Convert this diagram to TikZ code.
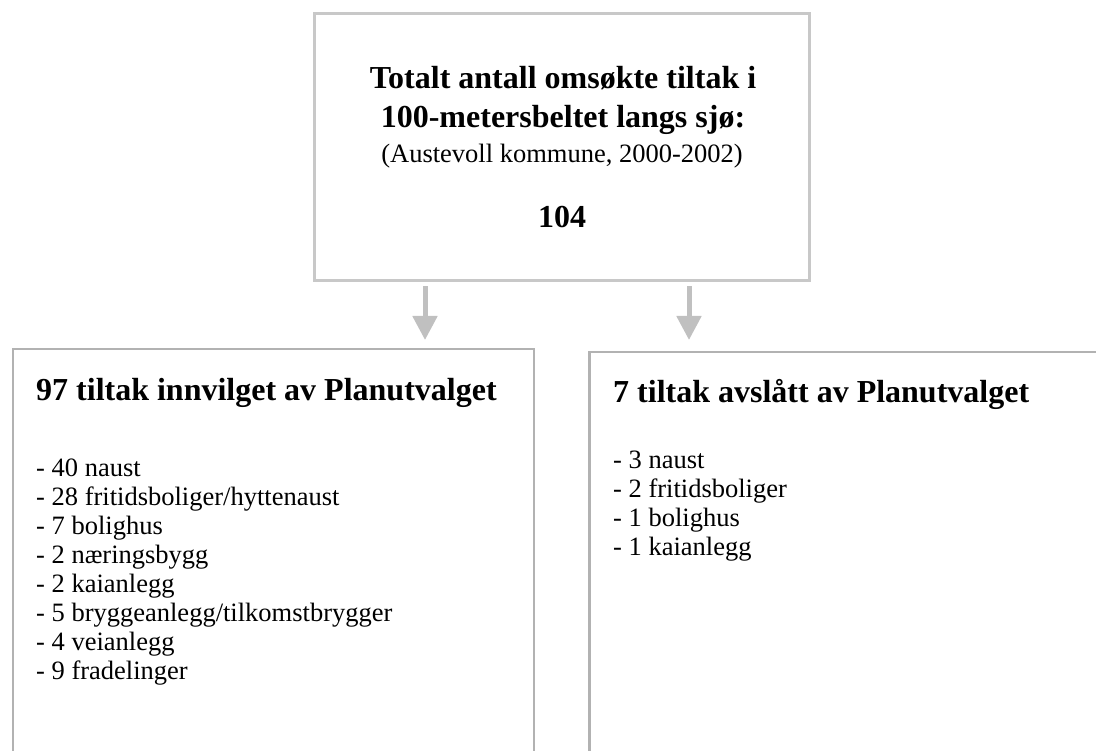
\documentclass[tikz,border=0pt]{standalone}
\usepackage{fontspec}
\setmainfont{Liberation Serif}
\usetikzlibrary{arrows.meta}
\definecolor{rammegraa}{HTML}{C8C8C8}
\definecolor{boksgraa}{HTML}{B2B2B2}
\definecolor{pilgraa}{HTML}{C0C0C0}
\begin{document}
\begin{tikzpicture}[x=1pt, y=1pt,
    ramme/.style = {draw=rammegraa, line width=3pt, inner sep=0pt},
    boks/.style = {draw=boksgraa, line width=2.5pt, inner sep=0pt},
    tittel/.style = {inner sep=0pt, font=\fontsize{32}{37}\selectfont\bfseries},
    liste/.style = {inner sep=0pt, align=left, font=\fontsize{26.5}{29}\selectfont},
    pil/.style = {draw=pilgraa, line width=5pt, -{Triangle[width=24pt, length=24pt]}}]
  % 固定画布大小
  \useasboundingbox (0,0) rectangle (1096,-751);
  \clip (0,0) rectangle (1096,-751);

  % 顶部方框
  \node[ramme, minimum width=495pt, minimum height=267pt] (total) at (561.5,-147.5) {};
  \node[tittel, anchor=base] (linje1) at (563,-89) {Totalt antall omsøkte tiltak i};
  \node[tittel, anchor=base] (linje2) at (563,-128) {100-metersbeltet langs sjø:};
  \node[inner sep=0pt, anchor=base, font=\fontsize{26.5}{30}\selectfont] (periode) at (562,-163) {(Austevoll kommune, 2000-2002)};
  \node[tittel, anchor=base] (antall) at (562,-228) {104};

  % 下方两个方框(底边在画布外)
  \node[boks, minimum width=521pt, minimum height=560pt, anchor=north west] (innvilget) at (11.5,-348) {};
  \node[boks, minimum width=560pt, minimum height=560pt, anchor=north west] (avslaatt) at (588,-351) {};

  % 左框文字
  \node[tittel, anchor=base west] (innvilgettittel) at (36,-401) {97 tiltak innvilget av Planutvalget};
  \node[liste, anchor=base west] (innvilgetliste) at (36,-679) {- 40 naust\\
    - 28 fritidsboliger/hyttenaust\\
    - 7 bolighus\\
    - 2 næringsbygg\\
    - 2 kaianlegg\\
    - 5 bryggeanlegg/tilkomstbrygger\\
    - 4 veianlegg\\
    - 9 fradelinger};

  % 右框文字
  \node[tittel, anchor=base west] (avslaatttittel) at (613,-403) {7 tiltak avslått av Planutvalget};
  \node[liste, anchor=base west] (avslaattliste) at (613,-555) {- 3 naust\\
    - 2 fritidsboliger\\
    - 1 bolighus\\
    - 1 kaianlegg};

  % 箭头
  \coordinate (venstre) at (425,0);
  \coordinate (hoyre) at (689,0);
  \draw[pil, shorten <=4pt, shorten >=8pt] (total.south -| venstre) -- (innvilget.north -| venstre);
  \draw[pil, shorten <=4pt, shorten >=11pt] (total.south -| hoyre) -- (avslaatt.north -| hoyre);
\end{tikzpicture}
\end{document}
